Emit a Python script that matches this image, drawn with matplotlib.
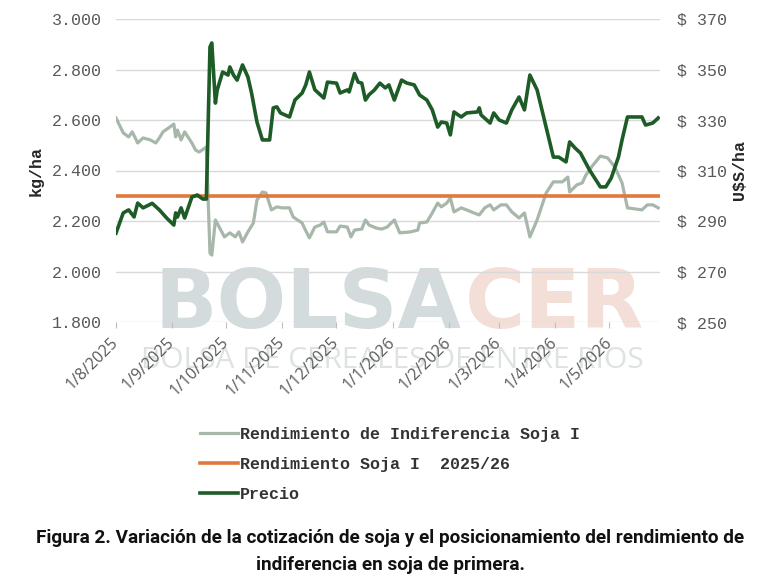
import numpy as np
import pandas as pd
import matplotlib
matplotlib.use("Agg")
import matplotlib.pyplot as plt
import matplotlib.dates as mdates

# Precio (U$S/ha, eje derecho)
fechas_precio = [
    "2025-08-01", "2025-08-05", "2025-08-08", "2025-08-11", "2025-08-13", "2025-08-16",
    "2025-08-21", "2025-08-25", "2025-08-29", "2025-09-02", "2025-09-03", "2025-09-04",
    "2025-09-06", "2025-09-08", "2025-09-12", "2025-09-15", "2025-09-18", "2025-09-20",
    "2025-09-22", "2025-09-23", "2025-09-25", "2025-09-26", "2025-09-29", "2025-10-02",
    "2025-10-03", "2025-10-05", "2025-10-07", "2025-10-10", "2025-10-13", "2025-10-15",
    "2025-10-18", "2025-10-21", "2025-10-25", "2025-10-27", "2025-10-29", "2025-10-31",
    "2025-11-05", "2025-11-08", "2025-11-12", "2025-11-14", "2025-11-16", "2025-11-19",
    "2025-11-24", "2025-11-26", "2025-12-01", "2025-12-03", "2025-12-07", "2025-12-08",
    "2025-12-11", "2025-12-13", "2025-12-15", "2025-12-17", "2025-12-19", "2025-12-22",
    "2025-12-25", "2025-12-28", "2025-12-30", "2026-01-02", "2026-01-06", "2026-01-09",
    "2026-01-13", "2026-01-16", "2026-01-20", "2026-01-23", "2026-01-26", "2026-01-28",
    "2026-01-31", "2026-02-02", "2026-02-04", "2026-02-08", "2026-02-11", "2026-02-17",
    "2026-02-18", "2026-02-19", "2026-02-24", "2026-02-26", "2026-03-01", "2026-03-05",
    "2026-03-08", "2026-03-12", "2026-03-15", "2026-03-18", "2026-03-22", "2026-03-31",
    "2026-04-03", "2026-04-07", "2026-04-09", "2026-04-12", "2026-04-15", "2026-04-20",
    "2026-04-26", "2026-04-29", "2026-05-02", "2026-05-06", "2026-05-08", "2026-05-11",
    "2026-05-16", "2026-05-19", "2026-05-21", "2026-05-25", "2026-05-28",
]
precio = [
    285.2, 293.2, 294.4, 291.6, 297.1, 295.2,
    297.0, 294.4, 291.2, 288.4, 293.2, 291.6,
    295.2, 291.2, 299.5, 300.3, 298.7, 298.7,
    358.9, 360.5, 336.7, 341.9, 349.0, 347.8,
    351.0, 347.8, 345.8, 351.8, 347.0, 340.7,
    329.2, 322.1, 322.1, 334.8, 335.2, 332.8,
    331.2, 337.9, 340.7, 343.9, 349.0, 342.0,
    338.7, 345.0, 344.6, 340.7, 341.9, 341.1,
    348.4, 345.0, 344.6, 337.9, 340.0, 341.9,
    344.6, 342.7, 343.9, 337.9, 345.8, 344.6,
    343.9, 339.9, 337.9, 334.0, 327.2, 329.2,
    328.8, 324.1, 333.2, 331.2, 332.8, 333.2,
    334.8, 332.0, 328.8, 332.8, 330.0, 328.8,
    334.0, 339.1, 334.0, 347.8, 341.9, 315.3,
    315.3, 313.4, 321.3, 318.9, 316.9, 310.2,
    303.5, 303.5, 307.0, 315.3, 322.1, 331.2,
    331.2, 331.2, 328.0, 328.8, 330.8,
]

# Rendimiento de indiferencia (kg/ha, eje izquierdo)
fechas_indif = [
    "2025-08-01", "2025-08-05", "2025-08-08", "2025-08-10", "2025-08-13", "2025-08-16",
    "2025-08-20", "2025-08-23", "2025-08-25", "2025-08-27", "2025-08-30", "2025-09-02",
    "2025-09-03", "2025-09-04", "2025-09-06", "2025-09-08", "2025-09-12", "2025-09-14",
    "2025-09-16", "2025-09-20", "2025-09-22", "2025-09-23", "2025-09-25", "2025-09-28",
    "2025-09-30", "2025-10-03", "2025-10-06", "2025-10-08", "2025-10-10", "2025-10-13",
    "2025-10-16", "2025-10-18", "2025-10-21", "2025-10-23", "2025-10-26", "2025-10-29",
    "2025-11-01", "2025-11-05", "2025-11-07", "2025-11-12", "2025-11-13", "2025-11-16",
    "2025-11-19", "2025-11-22", "2025-11-24", "2025-11-26", "2025-12-01", "2025-12-03",
    "2025-12-07", "2025-12-09", "2025-12-11", "2025-12-15", "2025-12-17", "2025-12-19",
    "2025-12-23", "2025-12-26", "2025-12-29", "2026-01-02", "2026-01-05", "2026-01-11",
    "2026-01-15", "2026-01-16", "2026-01-20", "2026-01-23", "2026-01-26", "2026-01-28",
    "2026-01-31", "2026-02-02", "2026-02-04", "2026-02-08", "2026-02-11", "2026-02-15",
    "2026-02-18", "2026-02-21", "2026-02-24", "2026-02-26", "2026-03-02", "2026-03-05",
    "2026-03-08", "2026-03-12", "2026-03-15", "2026-03-18", "2026-03-22", "2026-03-27",
    "2026-03-31", "2026-04-05", "2026-04-08", "2026-04-09", "2026-04-13", "2026-04-16",
    "2026-04-18", "2026-04-22", "2026-04-26", "2026-04-30", "2026-05-04", "2026-05-08",
    "2026-05-11", "2026-05-15", "2026-05-19", "2026-05-22", "2026-05-25", "2026-05-28",
]
indiferencia = [
    2608, 2549, 2533, 2553, 2509, 2529,
    2521, 2509, 2529, 2553, 2568, 2584,
    2533, 2560, 2521, 2553, 2509, 2481,
    2473, 2493, 2073, 2065, 2204, 2164,
    2137, 2153, 2137, 2157, 2117, 2157,
    2192, 2283, 2315, 2311, 2244, 2256,
    2252, 2252, 2216, 2192, 2176, 2133,
    2176, 2184, 2196, 2157, 2157, 2180,
    2176, 2137, 2164, 2168, 2204, 2184,
    2172, 2168, 2176, 2204, 2153, 2157,
    2164, 2192, 2196, 2232, 2271, 2256,
    2271, 2291, 2236, 2252, 2244, 2232,
    2224, 2252, 2264, 2244, 2264, 2264,
    2236, 2212, 2232, 2137, 2204, 2311,
    2355, 2355, 2374, 2315, 2343, 2351,
    2382, 2422, 2457, 2450, 2414, 2351,
    2252, 2248, 2244, 2264, 2264, 2252,
]

rendimiento_soja = 2300
etiquetas = ["Rendimiento de Indiferencia Soja I", "Rendimiento Soja I  2025/26", "Precio"]
titulo = ["Figura 2. Variación de la cotización de soja y el posicionamiento del rendimiento de",
          "indiferencia en soja de primera."]

c_gris = "#A7B7AA"
c_naranja = "#E07A3C"
c_verde = "#1D5B27"
c_texto = "#595959"
mono = ["Liberation Mono", "DejaVu Sans Mono"]

fig = plt.figure(figsize=(7.68, 5.82), dpi=100)
ax = fig.add_axes([116/768, 1-322/582, 544/768, 303/582])
ax.set_facecolor("none")
ax2 = ax.twinx()

# Marca de agua
fig.text(461/768, 1-328/582, "BOLSA", ha="right", va="baseline", fontsize=59,
         fontweight="bold", color="#D4DBDC", zorder=-5)
fig.text(465/768, 1-328/582, "CER", ha="left", va="baseline", fontsize=59,
         fontweight="bold", color="#F3DED8", zorder=-5)
fig.text(392/768, 1-360/582, "BOLSA DE CEREALES DE ENTRE RIOS", ha="center", va="center",
         fontsize=21.5, family=["Open Sans", "DejaVu Sans"], color="#DEE2E3", zorder=-5)

x_ind = pd.to_datetime(fechas_indif)
x_pre = pd.to_datetime(fechas_precio)

l1, = ax.plot(x_ind, indiferencia, color=c_gris, lw=2.3, solid_joinstyle="round")
l2 = ax.axhline(rendimiento_soja, color=c_naranja, lw=2.6)
l3, = ax2.plot(x_pre, precio, color=c_verde, lw=2.6, solid_joinstyle="round")

ax.set_ylim(1800, 3000)
ax.set_yticks(np.arange(1800, 3001, 200))
ax.set_yticklabels([f"{v:,.0f}".replace(",", ".") for v in np.arange(1800, 3001, 200)])
ax2.set_ylim(250, 370)
ax2.set_yticks(np.arange(250, 371, 20))
ax2.set_yticklabels([f"$ {v}" for v in np.arange(250, 371, 20)])

ax.set_xlim(pd.Timestamp("2025-08-01"), pd.Timestamp("2026-05-29"))
ax.xaxis.set_major_locator(mdates.MonthLocator(bymonthday=1))
ax.xaxis.set_major_formatter(plt.FuncFormatter(
    lambda v, p: (lambda d: f"{d.day}/{d.month}/{d.year}")(mdates.num2date(v))))

ax.grid(axis="y", color="#D9D9D9", lw=1)
ax.set_axisbelow(True)
for a in (ax, ax2):
    for s in a.spines.values():
        s.set_visible(False)
ax.tick_params(axis="y", length=0, pad=10, labelsize=12, labelcolor=c_texto)
ax2.tick_params(axis="y", length=0, pad=12, labelsize=12, labelcolor=c_texto)
ax.tick_params(axis="x", length=4, color="#BFBFBF", pad=9, labelsize=11.5, labelcolor=c_texto)
for t in ax.get_yticklabels() + ax2.get_yticklabels():
    t.set_family(mono)
for t in ax.get_xticklabels():
    t.set_family(["Open Sans", "DejaVu Sans"])
    t.set_rotation(45)
    t.set_ha("right")
    t.set_va("center")
    t.set_rotation_mode("anchor")

ax.set_ylabel("kg/ha", family=mono, fontweight="bold", fontsize=12, color="#262626", labelpad=6)
ax2.set_ylabel("U$S/ha", family=mono, fontweight="bold", fontsize=12, color="#262626",
               rotation=90, labelpad=4)

fig.legend([l1, l2, l3], etiquetas, loc="upper left", bbox_to_anchor=(200/768, 1-427/582),
           frameon=False, prop={"family": mono, "weight": "bold", "size": 12},
           handlelength=2.3, handletextpad=0.1, labelspacing=0.9, borderpad=0,
           borderaxespad=0, labelcolor="#333333")

cap_font = ["Liberation Sans Narrow", "Roboto", "DejaVu Sans"]
fig.text(390/768, 1-538/582, titulo[0], ha="center", va="center", family=cap_font,
         fontweight="bold", fontsize=13.6, color="#111111")
fig.text(390/768, 1-565/582, titulo[1], ha="center", va="center", family=cap_font,
         fontweight="bold", fontsize=13.6, color="#111111")

fig.savefig("out.png", dpi=100)
